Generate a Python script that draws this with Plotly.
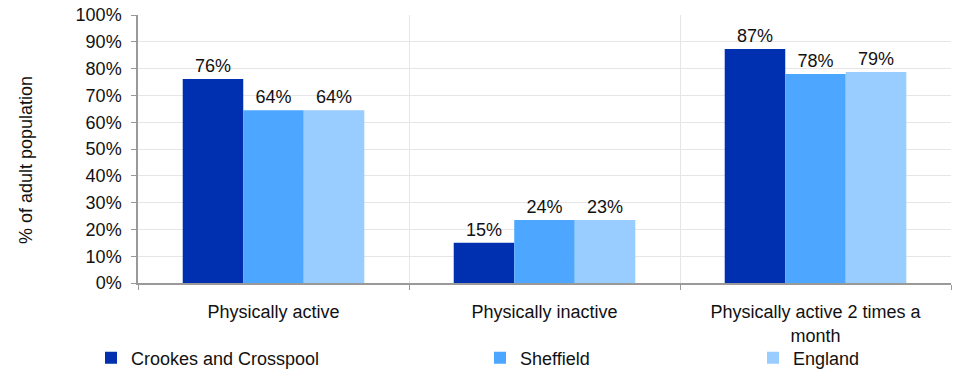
import plotly.graph_objects as go

categories = ["Physically active", "Physically inactive", "Physically active 2 times a<br>month"]
series_names = ["Crookes and Crosspool", "Sheffield", "England"]
crookes = [76.1, 15.0, 87.3]
sheffield = [64.5, 23.5, 78.0]
england = [64.5, 23.5, 78.7]
crookes_labels = ["76%", "15%", "87%"]
sheffield_labels = ["64%", "24%", "78%"]
england_labels = ["64%", "23%", "79%"]
colors = ["#0030B0", "#4DA6FF", "#99CCFF"]
y_ticks = list(range(0, 101, 10))
y_tick_labels = [f"{v}%" for v in y_ticks]
y_title = "% of adult population"

FONT = "Liberation Sans, Arial, sans-serif"
W, H = 955, 373
L, R, T, B = 138, 4, 15, 90

fig = go.Figure()
legend_names = ["legend", "legend2", "legend3"]
for name, vals, labels, col, lg in zip(series_names, [crookes, sheffield, england],
                                       [crookes_labels, sheffield_labels, england_labels], colors, legend_names):
    fig.add_trace(go.Bar(
        x=categories, y=vals, name=name, marker=dict(color=col, line=dict(width=0)),
        text=labels, textposition="outside", textfont=dict(size=18, color="#111111", family=FONT),
        cliponaxis=False, legend=lg, hoverinfo="skip",
    ))

leg_common = dict(orientation="h", xref="container", yref="container", y=15 / H, yanchor="middle",
                  xanchor="left", font=dict(size=18, color="#111111", family=FONT),
                  bgcolor="rgba(0,0,0,0)")
pw, ph = W - L - R, H - T - B
fig.update_layout(
    width=W, height=H,
    margin=dict(l=L, r=R, t=T, b=B, autoexpand=False),
    paper_bgcolor="white", plot_bgcolor="white",
    font=dict(family=FONT, size=18, color="#111111"),
    barmode="group", bargap=0.33, bargroupgap=0,
    showlegend=True,
    legend=dict(x=91 / W, **leg_common),
    legend2=dict(x=480 / W, **leg_common),
    legend3=dict(x=753 / W, **leg_common),
    annotations=[dict(text=y_title, xref="paper", yref="paper",
                      x=(26 - L) / pw, y=(H - B - 160) / ph, xanchor="center", yanchor="middle",
                      textangle=-90, showarrow=False, font=dict(size=18, color="#111111", family=FONT))],
)
fig.update_yaxes(
    range=[0, 100], tickvals=y_ticks, ticktext=y_tick_labels,
    showgrid=True, gridcolor="#e6e6e6", gridwidth=1,
    showline=True, linecolor="#999999", linewidth=1.5,
    ticks="outside", ticklen=5, tickcolor="#999999", ticklabelstandoff=6,
    tickfont=dict(size=18, color="#111111"),
    zeroline=False, fixedrange=True, automargin=False,
)
fig.update_xaxes(
    type="category", tickson="boundaries",
    showgrid=True, gridcolor="#e6e6e6", gridwidth=1,
    showline=True, linecolor="#999999", linewidth=1.5,
    ticks="outside", ticklen=5, tickcolor="#999999", ticklabelstandoff=12,
    tickfont=dict(size=18, color="#111111"), fixedrange=True, automargin=False,
)
fig.write_html("out.html", config={"displayModeBar": False},
               post_script="document.body.style.margin='0';")
